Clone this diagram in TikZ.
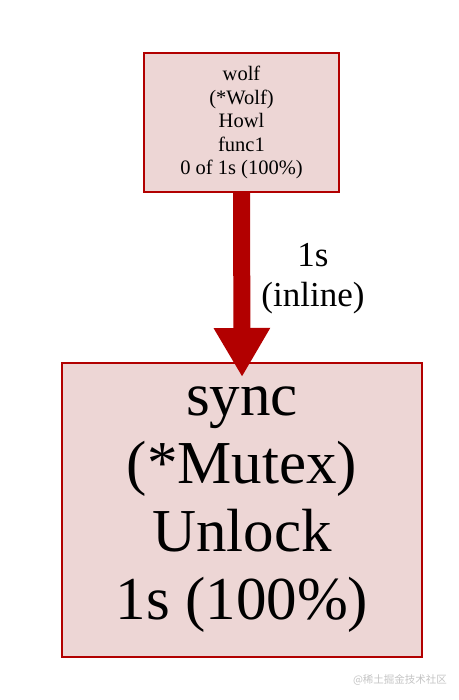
\documentclass[tikz,border=0pt]{standalone}
\usepackage{fontspec}
\setmainfont{Liberation Serif}
\newfontfamily\cjk{Noto Sans CJK SC}
\usetikzlibrary{arrows.meta}
\definecolor{pred}{HTML}{B20000}
\definecolor{pfill}{HTML}{EDD6D5}
\definecolor{wmark}{HTML}{C4C4C4}
\tikzset{
  fnode/.style={draw=pred, fill=pfill, line width=2pt, rectangle, align=center, inner sep=0pt},
  edgeline/.style={draw=pred, line width=17pt, -{Triangle[length=49pt,width=53pt]}, shorten >=-15pt},
  elabel/.style={align=center, inner sep=0pt, font=\fontsize{35}{40}\selectfont},
}
\begin{document}
\begin{tikzpicture}[x=1pt,y=-1pt]
\useasboundingbox (0,0) rectangle (458,700);
\node[fnode, minimum width=195pt, minimum height=139pt, font=\fontsize{20.5}{23.5}\selectfont] (top) at (241.5,122.5)
  {wolf\\(*Wolf)\\Howl\\func1\\0 of 1s (100\%)};
\node[fnode, minimum width=360pt, minimum height=294pt, font=\fontsize{61}{68}\selectfont] (bot) at (242,510)
  {sync\\(*Mutex)\\Unlock\\1s (100\%)};
\draw[edgeline] (top.south) -- (bot.north);
\node[elabel] (lbl) at (313,279) {1s\\(inline)};
\node[text=wmark, inner sep=0pt, font=\cjk\fontsize{10.5}{12}\selectfont] (wm) at (400,680) {@稀土掘金技术社区};
\end{tikzpicture}
\end{document}
